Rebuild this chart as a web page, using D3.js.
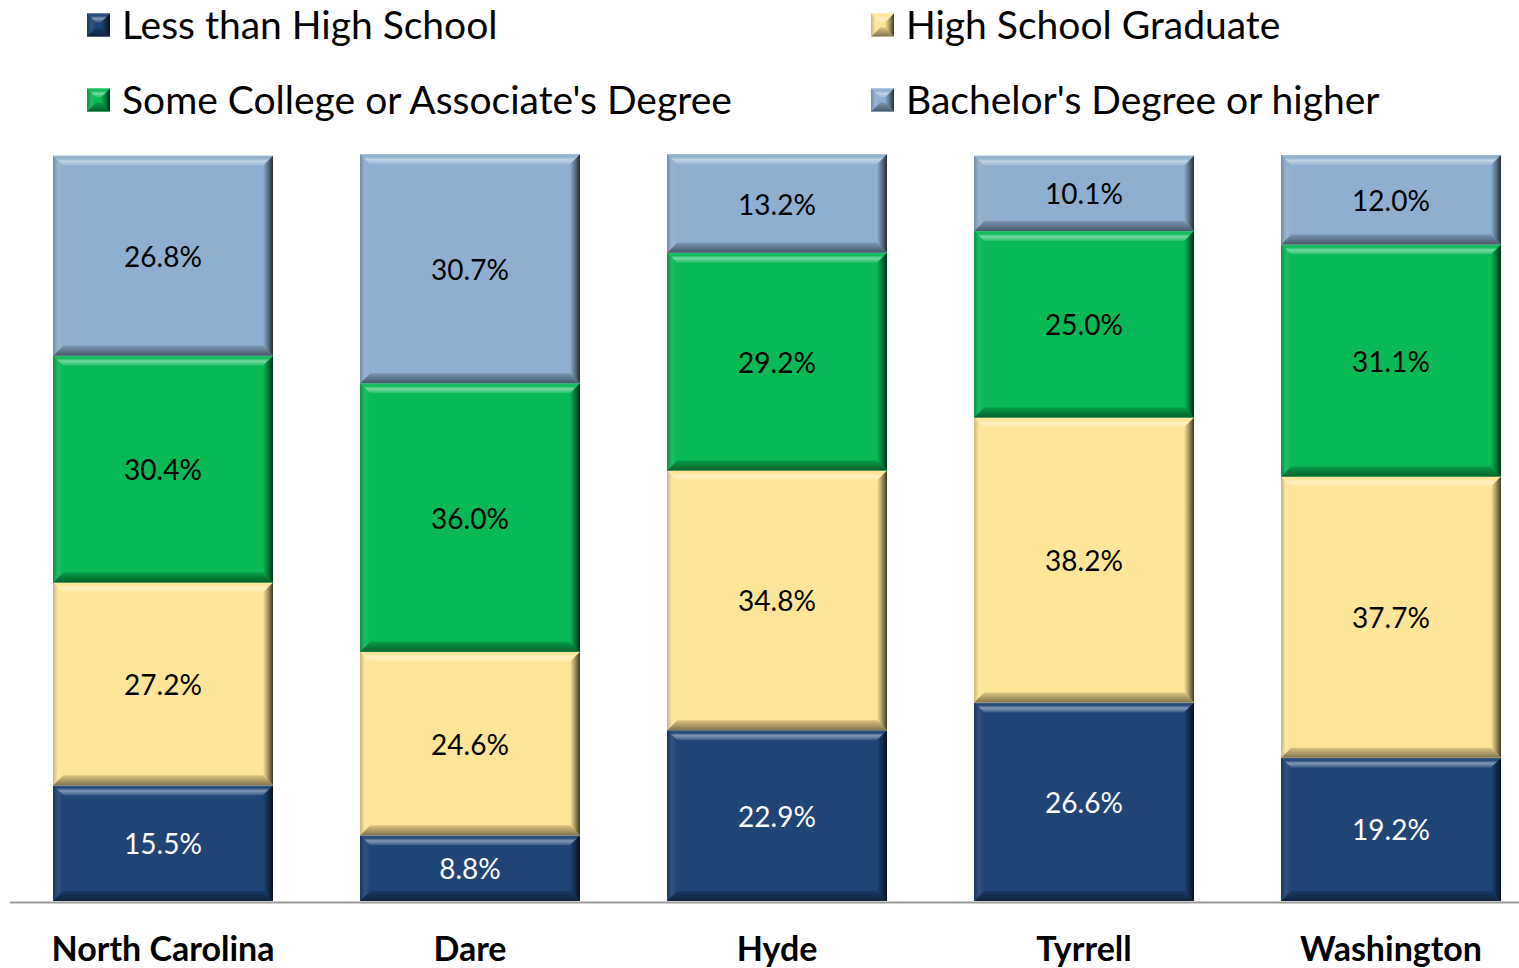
<!DOCTYPE html>
<html>
<head>
<meta charset="utf-8">
<script src="https://cdn.jsdelivr.net/npm/d3@7"></script>
<style>
  html, body { margin: 0; padding: 0; background: #ffffff; }
  svg { display: block; }
  text { font-family: Lato, "Open Sans", sans-serif; }
</style>
</head>
<body>
<svg id="chart" width="1519" height="968"></svg>
<script>
// Educational attainment, share of adult population (%)
const categories = ["North Carolina", "Dare", "Hyde", "Tyrrell", "Washington"];
const seriesNames = ["Less than High School", "High School Graduate",
                     "Some College or Associate's Degree", "Bachelor's Degree or higher"];
const lessThanHS   = [15.5,  8.8, 22.9, 26.6, 19.2];
const hsGraduate   = [27.2, 24.6, 34.8, 38.2, 37.7];
const someCollege  = [30.4, 36.0, 29.2, 25.0, 31.1];
const bachelorPlus = [26.8, 30.7, 13.2, 10.1, 12.0];
const seriesColors = ["#1f4476", "#ffe597", "#08b955", "#8eafcf"];
const labelColors  = ["#ffffff", "#000000", "#000000", "#000000"];

const W = 1519, H = 968;
const svg = d3.select("#chart");
const defs = svg.append("defs");

const rows = categories.map((c, i) => ({
  category: c,
  [seriesNames[0]]: lessThanHS[i],
  [seriesNames[1]]: hsGraduate[i],
  [seriesNames[2]]: someCollege[i],
  [seriesNames[3]]: bachelorPlus[i]
}));
const stacked = d3.stack().keys(seriesNames)(rows);

const x = d3.scaleBand()
  .domain(categories)
  .range([9.5, 1544.5])
  .paddingInner(0.2834)
  .paddingOuter(0.1417);
const y = d3.scaleLinear().domain([0, 100]).range([901, 155]);

// Bevel gradients for each series
seriesColors.forEach((col, k) => {
  const light = d3.interpolateRgb(col, "#ffffff");
  const dark = d3.interpolateRgb(col, "#000000");
  const mk = (id, x1, y1, x2, y2, stops) => {
    const g = defs.append("linearGradient").attr("id", id)
      .attr("x1", x1).attr("y1", y1).attr("x2", x2).attr("y2", y2);
    stops.forEach(([o, s]) => g.append("stop").attr("offset", o).attr("stop-color", s));
  };
  mk(`top${k}`, 0, 0, 0, 1, [[0, light(0.15)], [0.25, col], [0.55, light(0.45)], [1, light(0.1)]]);
  mk(`bot${k}`, 0, 0, 0, 1, [[0, dark(0.15)], [0.6, dark(0.35)], [1, dark(0.5)]]);
  mk(`rgt${k}`, 0, 0, 1, 0, [[0, col], [0.5, dark(0.35)], [1, dark(0.75)]]);
  mk(`lft${k}`, 0, 0, 1, 0, [[0, dark(0.2)], [0.5, light(0.08)], [1, col]]);
});

// Draw a bevelled box: flat face plus four shaded trapezoids
function bevelBox(g, x0, y0, w, h, b, k) {
  b = Math.min(b, h / 2, w / 2);
  const x1 = x0 + w, y1 = y0 + h;
  g.append("rect").attr("x", x0).attr("y", y0).attr("width", w).attr("height", h)
    .attr("fill", seriesColors[k]);
  const poly = (pts, fill) => g.append("polygon")
    .attr("points", pts.map(p => p.join(",")).join(" ")).attr("fill", fill);
  poly([[x0, y0], [x1, y0], [x1 - b, y0 + b], [x0 + b, y0 + b]], `url(#top${k})`);
  poly([[x0, y1], [x1, y1], [x1 - b, y1 - b], [x0 + b, y1 - b]], `url(#bot${k})`);
  poly([[x0, y0], [x0 + b, y0 + b], [x0 + b, y1 - b], [x0, y1]], `url(#lft${k})`);
  poly([[x1, y0], [x1 - b, y0 + b], [x1 - b, y1 - b], [x1, y1]], `url(#rgt${k})`);
}

// Stacked bars
const layer = svg.append("g");
stacked.forEach((s, k) => {
  s.forEach((d, i) => {
    const g = layer.append("g");
    const bx = x(categories[i]);
    const top = y(d[1]), bottom = y(d[0]);
    bevelBox(g, bx, top, x.bandwidth(), bottom - top, 10, k);
  });
});

// Value labels
stacked.forEach((s, k) => {
  svg.append("g").selectAll("text").data(s).join("text")
    .attr("x", (d, i) => x(categories[i]) + x.bandwidth() / 2)
    .attr("y", d => (y(d[0]) + y(d[1])) / 2 + 1)
    .attr("dy", "0.36em")
    .attr("text-anchor", "middle")
    .attr("font-size", 28)
    .attr("fill", labelColors[k])
    .text(d => (d[1] - d[0]).toFixed(1) + "%");
});

// Category axis
const axis = svg.append("g")
  .attr("transform", `translate(0,${902})`)
  .call(d3.axisBottom(x).tickSize(0).tickSizeOuter(0));
axis.select(".domain").attr("stroke", "#9a9a9a").attr("stroke-width", 2);
axis.selectAll(".tick text")
  .attr("y", 47)
  .attr("dy", "0.36em")
  .attr("font-size", 34)
  .attr("font-weight", "bold")
  .attr("font-family", "Lato, sans-serif")
  .attr("fill", "#000");

// Legend
const legendPos = [[87, 25], [871, 25], [87, 100], [871, 100]];
const legend = svg.append("g");
seriesNames.forEach((name, k) => {
  const [lx, ly] = legendPos[k];
  const g = legend.append("g");
  bevelBox(g, lx, ly - 11.5, 23, 23, 9, k);
  g.append("text")
    .attr("x", lx + 35)
    .attr("y", ly)
    .attr("dy", "0.36em")
    .attr("font-size", 39)
    .attr("fill", "#000")
    .text(name);
});
</script>
</body>
</html>
